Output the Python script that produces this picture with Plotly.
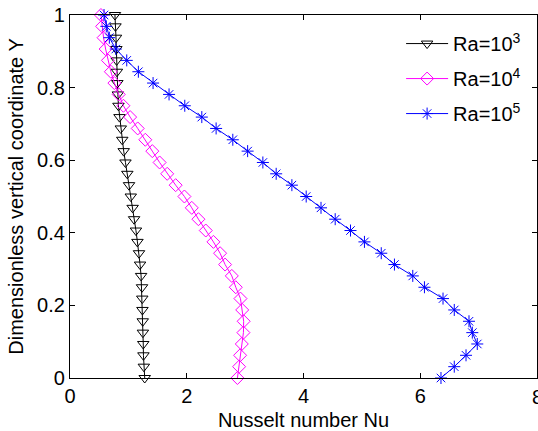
import plotly.graph_objects as go

# Vertical coordinate along the wall (33 grid levels, 0..1)
y_levels = [k / 32 for k in range(33)]

# Local Nusselt number along the wall for each Rayleigh number (bottom -> top)
nu_ra1e3 = [1.28, 1.265, 1.258, 1.255, 1.249, 1.246, 1.241, 1.238, 1.234, 1.218,
            1.200, 1.182, 1.155, 1.130, 1.098, 1.073, 1.041, 1.011, 0.982, 0.950,
            0.920, 0.895, 0.870, 0.848, 0.830, 0.820, 0.811, 0.804, 0.799, 0.794,
            0.788, 0.779, 0.770]
nu_ra1e4 = [2.868, 2.897, 2.914, 2.943, 2.971, 2.975, 2.950, 2.920, 2.840, 2.772,
            2.657, 2.571, 2.457, 2.326, 2.200, 2.086, 1.960, 1.810, 1.665, 1.535,
            1.410, 1.290, 1.160, 1.030, 0.915, 0.835, 0.760, 0.700, 0.650, 0.610,
            0.575, 0.550, 0.530]
nu_ra1e5 = [6.355, 6.583, 6.784, 6.977, 6.892, 6.835, 6.583, 6.390, 6.072, 5.872,
            5.558, 5.332, 5.044, 4.805, 4.543, 4.300, 4.046, 3.801, 3.532, 3.304,
            3.043, 2.789, 2.503, 2.258, 1.966, 1.697, 1.423, 1.171, 0.972, 0.785,
            0.674, 0.622, 0.583]

series_names = ["Ra=10<sup>3</sup>", "Ra=10<sup>4</sup>", "Ra=10<sup>5</sup>"]
x_ticks = [0, 2, 4, 6, 8]
y_ticks = [0, 0.2, 0.4, 0.6, 0.8, 1]

FONT = "Liberation Sans, Arial, sans-serif"

fig = go.Figure()

styles = [
    dict(color="black", symbol="triangle-down-open", size=10),
    dict(color="#ff00ff", symbol="diamond-open", size=10),
    dict(color="#0000ff", symbol="asterisk-open", size=10),
]

for i, (name, nu, st) in enumerate(zip(series_names, [nu_ra1e3, nu_ra1e4, nu_ra1e5], styles)):
    fig.add_trace(go.Scatter(
        x=nu, y=y_levels, name=name, mode="lines+markers",
        legendgroup=f"g{i}",
        line=dict(color=st["color"], width=1),
        marker=dict(symbol=st["symbol"], size=st["size"], color=st["color"],
                    line=dict(color=st["color"], width=1)),
        cliponaxis=False,
    ))

axis_common = dict(
    showgrid=False, zeroline=False, showline=True, linecolor="black",
    linewidth=1.2, mirror="allticks", ticks="inside", ticklen=5,
    tickcolor="black", tickwidth=1,
    tickfont=dict(family=FONT, size=20, color="black"),
)

# The last x tick sits on the page edge; its label is drawn separately below
fig.update_xaxes(range=[0, 8], tickvals=x_ticks,
                 ticktext=[str(v) for v in x_ticks[:-1]] + [""],
                 title=dict(text="Nusselt number Nu", standoff=9,
                            font=dict(family=FONT, size=20, color="black")),
                 **axis_common)
fig.update_yaxes(range=[0, 1], tickvals=y_ticks,
                 title=dict(text="Dimensionless vertical coordinate Y", standoff=8,
                            font=dict(family=FONT, size=20, color="black")),
                 **axis_common)

fig.add_annotation(x=x_ticks[-1], y=0, xref="x", yref="paper",
                   text=str(x_ticks[-1]), showarrow=False,
                   xanchor="center", yanchor="top", yshift=-6,
                   font=dict(family=FONT, size=20, color="black"))

fig.update_layout(
    width=538, height=431,
    margin=dict(l=70, r=1, t=15, b=53, autoexpand=False),
    paper_bgcolor="white", plot_bgcolor="white",
    font=dict(family=FONT, size=20, color="black"),
    showlegend=True,
    legend=dict(x=0.709, y=0.975, xanchor="left", yanchor="top",
                bgcolor="white", borderwidth=0, itemwidth=42,
                font=dict(family=FONT, size=20, color="black"),
                tracegroupgap=6),
)

fig.write_html("out.html")
